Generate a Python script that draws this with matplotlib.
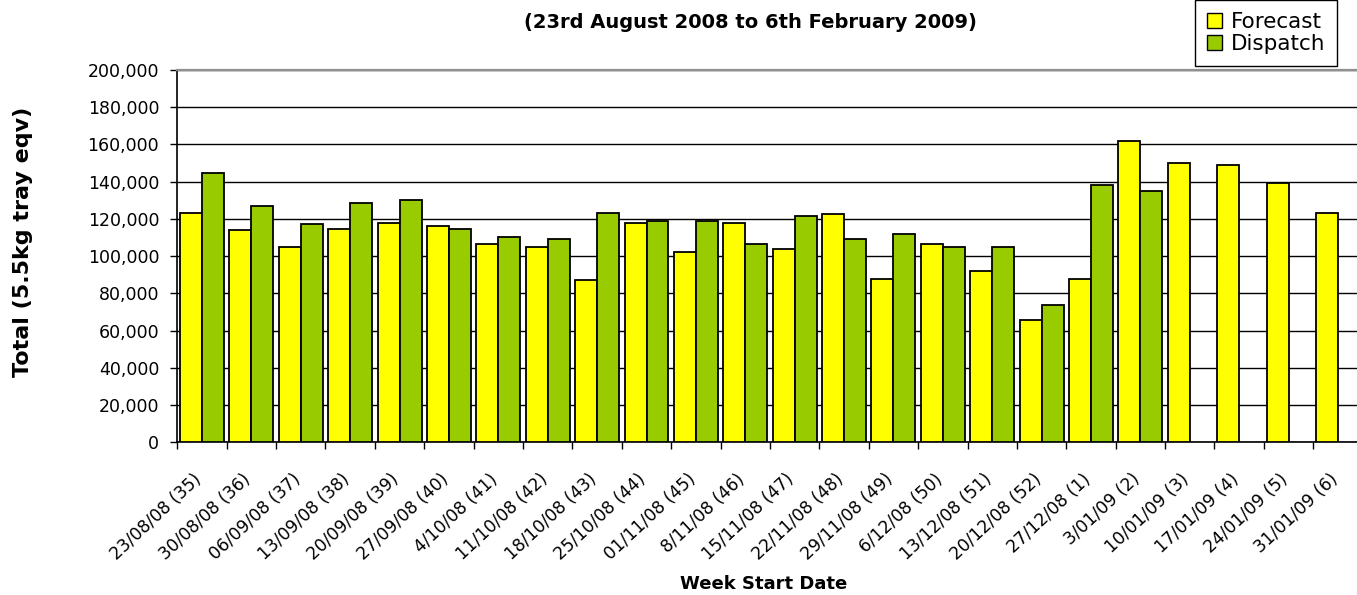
import numpy as np
import matplotlib
matplotlib.use('Agg')
import matplotlib.pyplot as plt
from matplotlib.patches import Patch
from matplotlib.ticker import FuncFormatter, MultipleLocator
import matplotlib.transforms as mtransforms

weeks = ['23/08/08 (35)', '30/08/08 (36)', '06/09/08 (37)', '13/09/08 (38)',
         '20/09/08 (39)', '27/09/08 (40)', '4/10/08 (41)', '11/10/08 (42)',
         '18/10/08 (43)', '25/10/08 (44)', '01/11/08 (45)', '8/11/08 (46)',
         '15/11/08 (47)', '22/11/08 (48)', '29/11/08 (49)', '6/12/08 (50)',
         '13/12/08 (51)', '20/12/08 (52)', '27/12/08 (1)', '3/01/09 (2)',
         '10/01/09 (3)', '17/01/09 (4)', '24/01/09 (5)', '31/01/09 (6)']
forecast = [123400, 113900, 105100, 114800, 118000, 116000, 106400, 105100,
            87000, 118000, 102100, 118000, 104000, 122500, 87900, 106400,
            92200, 65500, 87900, 162000, 150000, 149200, 139500, 123400]
dispatch = [144900, 126900, 117100, 128700, 130000, 114800, 110500, 109400,
            123400, 119100, 119100, 106400, 121400, 109400, 111700, 105100,
            105100, 73900, 138400, 135200, None, None, None, None]

W, H = 1357, 595
fig = plt.figure(figsize=(W / 100, H / 100), dpi=100)
# plot area runs a little past the right edge, as in the original
ax = fig.add_axes([177.3 / W, 1 - 442.3 / H, 24 * 49.39 / W, 372.3 / H])

x = np.arange(len(weeks))
bw = 0.445
ax.bar(x - bw / 2, forecast, bw, color='#FFFF00', edgecolor='black',
       linewidth=1.3, zorder=3, label='Forecast')
xd = [i for i, v in enumerate(dispatch) if v is not None]
yd = [v for v in dispatch if v is not None]
ax.bar(np.array(xd) + bw / 2, yd, bw, color='#99CC00', edgecolor='black',
       linewidth=1.3, zorder=3, label='Dispatch')

ax.set_xlim(-0.5, len(weeks) - 0.5)
ax.set_ylim(0, 200000)
ax.yaxis.set_major_locator(MultipleLocator(20000))
ax.yaxis.set_major_formatter(FuncFormatter(lambda v, p: f'{int(v):,}'))
ax.grid(axis='y', color='black', linewidth=1, zorder=0)
ax.set_axisbelow(True)

ax.spines['right'].set_visible(False)
ax.spines['top'].set_color('#909090')
ax.spines['top'].set_linewidth(1.6)
ax.spines['left'].set_linewidth(1.2)
ax.spines['bottom'].set_linewidth(1.2)

ax.tick_params(axis='y', direction='out', length=5, width=1, pad=8,
               labelsize=12.5)
ax.set_xticks(x)
ax.set_xticks(np.arange(len(weeks) + 1) - 0.5, minor=True)
ax.tick_params(axis='x', which='major', length=0, pad=20)
ax.tick_params(axis='x', which='minor', direction='out', length=5, width=1)
ax.set_xticklabels(weeks, rotation=43, ha='right', va='top',
                   rotation_mode='anchor', fontsize=12.3)
shift = mtransforms.ScaledTranslation(-9 / 100, 0, fig.dpi_scale_trans)
for lab in ax.get_xticklabels():
    lab.set_transform(lab.get_transform() + shift)

fig.text(23 / W, 1 - 242 / H, 'Total (5.5kg tray eqv)', rotation=90,
         ha='center', va='center', fontsize=16, fontweight='bold')
fig.text(764 / W, 1 - 584 / H, 'Week Start Date', ha='center', va='center',
         fontsize=13, fontweight='bold')
fig.text(750 / W, 1 - 22.5 / H, '(23rd August 2008 to 6th February 2009)',
         ha='center', va='center', fontsize=14, fontweight='bold')

handles = [Patch(facecolor='#FFFF00', edgecolor='black', linewidth=1),
           Patch(facecolor='#99CC00', edgecolor='black', linewidth=1)]
leg = fig.legend(handles, ['Forecast', 'Dispatch'], loc='upper left',
                 bbox_to_anchor=(1195 / W, 1.0), fontsize=15.5,
                 handlelength=0.7, handleheight=0.7, handletextpad=0.4,
                 labelspacing=0.1, borderpad=0.55, borderaxespad=0,
                 fancybox=False, framealpha=1)
leg.get_frame().set_edgecolor('black')
leg.get_frame().set_linewidth(1)

fig.savefig('out.png', dpi=100)
